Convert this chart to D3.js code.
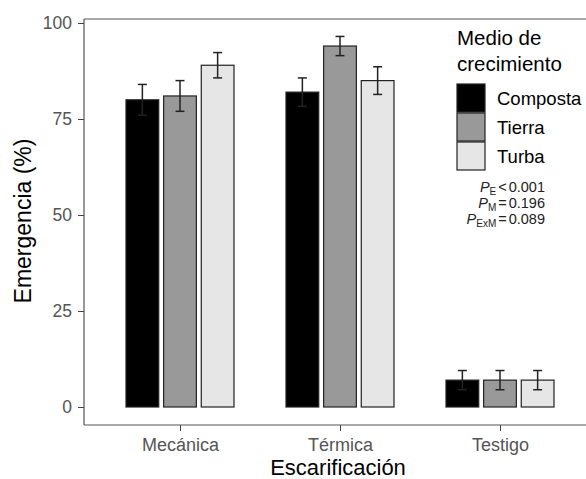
<!DOCTYPE html>
<html>
<head>
<meta charset="utf-8">
<script src="https://cdn.jsdelivr.net/npm/d3@7"></script>
<style>
  body { margin: 0; background: #fff; }
  text { font-family: Arial, "Liberation Sans", sans-serif; }
</style>
</head>
<body>
<script>
// data
const groups = ["Mecánica", "Térmica", "Testigo"];
const media = ["Composta", "Tierra", "Turba"];
const fills = ["#000000", "#999999", "#e6e6e6"];
const composta = [80, 82, 7];
const tierra = [81, 94, 7];
const turba = [89, 85, 7];
const compostaErr = [4, 3.7, 2.5];
const tierraErr = [4, 2.5, 2.5];
const turbaErr = [3.3, 3.6, 2.5];
const yTicks = [0, 25, 50, 75, 100];
const pLines = [["E", "<", "0.001"], ["M", "=", "0.196"], ["ExM", "=", "0.089"]];

const series = [composta, tierra, turba];
const errs = [compostaErr, tierraErr, turbaErr];

const W = 586, H = 479;
const pLeft = 84, pTop = 19, pBottom = 425;
const font = "Arial, 'Liberation Sans', sans-serif";

const svg = d3.select("body").append("svg")
    .attr("width", W).attr("height", H);

// ggplot-style discrete axis: centers at 180, 340, 500
const xc = d3.scalePoint().domain(groups).range([180, 500]);
const inner = d3.scaleBand().domain(media).range([-54, 54]).paddingInner(0.13).paddingOuter(0);

const y = d3.scaleLinear().domain([0, 100]).range([407, 23]);

// panel lines
svg.append("line").attr("x1", pLeft).attr("x2", W).attr("y1", pTop).attr("y2", pTop)
    .attr("stroke", "#555").attr("stroke-width", 1.2);
svg.append("line").attr("x1", pLeft).attr("x2", W).attr("y1", pBottom).attr("y2", pBottom)
    .attr("stroke", "#555").attr("stroke-width", 1.2);
svg.append("line").attr("x1", pLeft).attr("x2", pLeft).attr("y1", pTop).attr("y2", pBottom)
    .attr("stroke", "#555").attr("stroke-width", 1.2);

// y axis
const yAxis = svg.append("g").attr("transform", `translate(${pLeft},0)`)
    .call(d3.axisLeft(y).tickValues(yTicks).tickSize(6).tickPadding(6));
yAxis.select(".domain").remove();
yAxis.selectAll("line").attr("stroke", "#444");
yAxis.selectAll("text").attr("fill", "#555").attr("font-size", 17.5)
    .attr("font-family", font);

// x axis
const xAxis = svg.append("g").attr("transform", `translate(0,${pBottom})`)
    .call(d3.axisBottom(xc).tickSize(6).tickPadding(7));
xAxis.select(".domain").remove();
xAxis.selectAll("line").attr("stroke", "#444");
xAxis.selectAll("text").attr("fill", "#555").attr("font-size", 18)
    .attr("font-family", font);

// bars
series.forEach((vals, i) => {
    const g = svg.append("g");
    g.selectAll("rect").data(vals).enter().append("rect")
        .attr("x", (d, j) => xc(groups[j]) + inner(media[i]))
        .attr("y", d => y(d))
        .attr("width", inner.bandwidth())
        .attr("height", d => y(0) - y(d))
        .attr("fill", fills[i])
        .attr("stroke", "#222").attr("stroke-width", 1.2);

    const cx = j => xc(groups[j]) + inner(media[i]) + inner.bandwidth() / 2;
    g.selectAll("line.v").data(vals).enter().append("line")
        .attr("x1", (d, j) => cx(j)).attr("x2", (d, j) => cx(j))
        .attr("y1", (d, j) => y(d - errs[i][j])).attr("y2", (d, j) => y(d + errs[i][j]))
        .attr("stroke", "#222").attr("stroke-width", 1.5);
    [-1, 1].forEach(s => {
        g.selectAll("line.c" + s).data(vals).enter().append("line")
            .attr("x1", (d, j) => cx(j) - 4.5).attr("x2", (d, j) => cx(j) + 4.5)
            .attr("y1", (d, j) => y(d + s * errs[i][j])).attr("y2", (d, j) => y(d + s * errs[i][j]))
            .attr("stroke", "#222").attr("stroke-width", 1.5);
    });
});

// axis titles
svg.append("text").attr("x", 338).attr("y", 475).attr("text-anchor", "middle")
    .attr("font-size", 22).attr("fill", "#000").text("Escarificación");
svg.append("text").attr("transform", "translate(31,221) rotate(-90)")
    .attr("text-anchor", "middle").attr("font-size", 23).attr("fill", "#000")
    .text("Emergencia (%)");

// legend
const lg = svg.append("g");
lg.append("text").attr("x", 457).attr("y", 45).attr("font-size", 20.5).text("Medio de");
lg.append("text").attr("x", 457).attr("y", 71).attr("font-size", 20.5).text("crecimiento");
media.forEach((m, i) => {
    lg.append("rect").attr("x", 457).attr("y", 84 + i * 29).attr("width", 28).attr("height", 28)
        .attr("fill", fills[i]).attr("stroke", "#222").attr("stroke-width", 1.2);
    lg.append("text").attr("x", 497).attr("y", 105 + i * 29).attr("font-size", 18.5).text(m);
});

// p values
pLines.forEach((p, i) => {
    const t = svg.append("text").attr("x", 545).attr("y", 192 + i * 16)
        .attr("text-anchor", "end").attr("font-size", 14.5).attr("fill", "#222");
    t.append("tspan").attr("font-style", "italic").text("P");
    t.append("tspan").attr("font-size", 10).attr("dy", 3).text(p[0]);
    t.append("tspan").attr("dy", -3).attr("dx", 2).text(p[1]);
    t.append("tspan").attr("dx", 2).text(p[2]);
});
</script>
</body>
</html>
